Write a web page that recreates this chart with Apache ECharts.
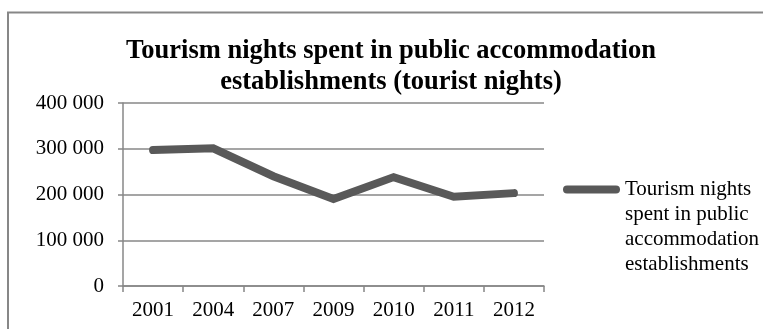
<!DOCTYPE html>
<html>
<head>
<meta charset="utf-8">
<script src="https://cdn.jsdelivr.net/npm/echarts@6/dist/echarts.min.js"></script>
<style>
  html, body { margin: 0; padding: 0; background: #fff; }
  #my-charts { width: 763px; height: 329px; }
</style>
</head>
<body>
<div id="my-charts"></div>
<script>
// data
var years = ['2001', '2004', '2007', '2009', '2010', '2011', '2012']
var nights = [297000, 301000, 240000, 190000, 238000, 195000, 203000]
var seriesName = 'Tourism nights spent in public accommodation establishments'
var legendLines = ['Tourism nights', 'spent in public', 'accommodation', 'establishments']
var titleText = 'Tourism nights spent in public accommodation\nestablishments (tourist nights)'

var serif = '"Liberation Serif", "Times New Roman", serif'
var gray = '#878787'

var myChart = echarts.init(document.getElementById('my-charts'))

let option = {
	animation: false,
	backgroundColor: '#fff',
	graphic: [
		{
			type: 'rect',
			shape: { x: 8, y: 12.5, width: 800, height: 400 },
			style: { fill: 'none', stroke: gray, lineWidth: 2 },
			silent: true
		}
	],
	title: {
		text: titleText,
		left: 391,
		top: 36,
		padding: 0,
		textAlign: 'center',
		textStyle: {
			fontFamily: serif,
			fontSize: 26.5,
			fontWeight: 'bold',
			color: '#000',
			lineHeight: 31
		}
	},
	legend: {
		left: 563,
		top: 102,
		padding: 0,
		itemWidth: 57,
		itemHeight: 8,
		icon: 'path://M4,0 L53,0 A4,4 0 0 1 53,8 L4,8 A4,4 0 0 1 4,0 Z',
		data: [seriesName],
		formatter: function () {
			// blank lines first so the icon sits beside the first line
			return '\n\n\n' + legendLines.join('\n')
		},
		textStyle: {
			fontFamily: serif,
			fontSize: 21,
			color: '#000',
			lineHeight: 25
		}
	},
	grid: {
		left: 123,
		right: 219,
		top: 103,
		bottom: 43,
		containLabel: false
	},
	xAxis: {
		type: 'category',
		boundaryGap: true,
		data: years,
		axisLine: { lineStyle: { color: gray, width: 1.5 } },
		axisTick: { show: true, length: 6, lineStyle: { color: gray, width: 1.5 } },
		axisLabel: {
			fontFamily: serif,
			fontSize: 21,
			color: '#000',
			margin: 14
		}
	},
	yAxis: {
		type: 'value',
		min: 0,
		max: 400000,
		interval: 100000,
		axisLine: { show: true, lineStyle: { color: gray, width: 1.5 } },
		axisTick: { show: true, length: 5, lineStyle: { color: gray, width: 1.5 } },
		splitLine: { show: true, lineStyle: { color: gray, width: 1.5 } },
		axisLabel: {
			fontFamily: serif,
			fontSize: 21,
			color: '#000',
			margin: 19,
			formatter: function (v) {
				return v === 0 ? '0' : (v / 1000) + ' 000'
			}
		}
	},
	series: [
		{
			name: seriesName,
			type: 'line',
			data: nights,
			symbol: 'none',
			color: '#595959',
			lineStyle: { color: '#595959', width: 8, cap: 'round', join: 'miter' }
		}
	]
}

myChart.setOption(option)
</script>
</body>
</html>
